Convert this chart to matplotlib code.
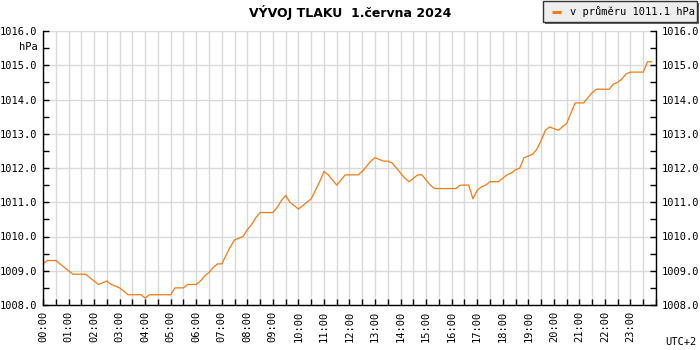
import matplotlib
matplotlib.use("Agg")
import matplotlib.pyplot as plt
from matplotlib.ticker import MultipleLocator, FixedLocator, FuncFormatter
from matplotlib.patches import Rectangle

# data: pressure every 10 minutes (hPa), 00:00 .. 23:50
minutes = list(range(0, 1440, 10))
pressure = [
    1009.2, 1009.3, 1009.3, 1009.3, 1009.2, 1009.1,   # 00:00-00:50
    1009.0, 1008.9, 1008.9, 1008.9, 1008.9, 1008.8,   # 01:00-01:50
    1008.7, 1008.6, 1008.65, 1008.7, 1008.6, 1008.55, # 02:00-02:50
    1008.5, 1008.4, 1008.3, 1008.3, 1008.3, 1008.3,   # 03:00-03:50
    1008.2, 1008.3, 1008.3, 1008.3, 1008.3, 1008.3,   # 04:00-04:50
    1008.3, 1008.5, 1008.5, 1008.5, 1008.6, 1008.6,   # 05:00-05:50
    1008.6, 1008.7, 1008.85, 1008.95, 1009.1, 1009.2, # 06:00-06:50
    1009.2, 1009.45, 1009.7, 1009.9, 1009.95, 1010.0, # 07:00-07:50
    1010.2, 1010.35, 1010.55, 1010.7, 1010.7, 1010.7, # 08:00-08:50
    1010.7, 1010.85, 1011.05, 1011.2, 1011.0, 1010.9, # 09:00-09:50
    1010.8, 1010.9, 1011.0, 1011.1, 1011.35, 1011.6,  # 10:00-10:50
    1011.9, 1011.8, 1011.65, 1011.5, 1011.65, 1011.8, # 11:00-11:50
    1011.8, 1011.8, 1011.8, 1011.9, 1012.05, 1012.2,  # 12:00-12:50
    1012.3, 1012.25, 1012.2, 1012.2, 1012.15, 1012.0, # 13:00-13:50
    1011.85, 1011.7, 1011.6, 1011.7, 1011.8, 1011.8,  # 14:00-14:50
    1011.65, 1011.5, 1011.4, 1011.4, 1011.4, 1011.4,  # 15:00-15:50
    1011.4, 1011.4, 1011.5, 1011.5, 1011.5, 1011.1,   # 16:00-16:50
    1011.35, 1011.45, 1011.5, 1011.6, 1011.6, 1011.6, # 17:00-17:50
    1011.7, 1011.8, 1011.85, 1011.95, 1012.0, 1012.3, # 18:00-18:50
    1012.35, 1012.4, 1012.55, 1012.8, 1013.1, 1013.2, # 19:00-19:50
    1013.15, 1013.1, 1013.2, 1013.3, 1013.6, 1013.9,  # 20:00-20:50
    1013.9, 1013.9, 1014.05, 1014.2, 1014.3, 1014.3,  # 21:00-21:50
    1014.3, 1014.3, 1014.45, 1014.5, 1014.6, 1014.75, # 22:00-22:50
    1014.8, 1014.8, 1014.8, 1014.8, 1015.1, 1015.1,   # 23:00-23:50
]
hour_labels = ["%02d:00" % h for h in range(24)]
title_text = "VÝVOJ TLAKU  1.června 2024"
legend_text = "v průměru 1011.1 hPa"

mono = "DejaVu Sans Mono"
line_color = "#f57a12"
grid_color = "#d9d9d9"

W, H = 700, 350
fig = plt.figure(figsize=(7, 3.5), dpi=100)
ax = fig.add_axes([43 / W, 1 - 305 / H, (656 - 43) / W, (305 - 31) / H])

ax.plot(minutes, pressure, color=line_color, linewidth=0.9)

ax.set_xlim(0, 1440)
ax.set_ylim(1008, 1016)

ax.xaxis.set_major_locator(FixedLocator([h * 60 for h in range(24)]))
ax.xaxis.set_minor_locator(MultipleLocator(30))
ax.set_xticklabels(hour_labels, rotation=90, fontfamily=mono, fontsize=7.5)
ax.yaxis.set_major_locator(MultipleLocator(1))
ax.yaxis.set_minor_locator(MultipleLocator(0.5))
ax.yaxis.set_major_formatter(FuncFormatter(lambda v, p: "%.1f" % v))

ax.grid(True, which="both", axis="x", color=grid_color, linewidth=1.0)
ax.grid(True, which="major", axis="y", color=grid_color, linewidth=1.0)
ax.set_axisbelow(True)

ax.tick_params(axis="both", which="both", direction="in", length=4, width=1, color="black")
ax.tick_params(axis="y", which="both", left=True, right=True, labelleft=True, labelright=True)
ax.tick_params(axis="x", which="both", top=False, pad=4)
ax.tick_params(axis="y", pad=4)
for lab in ax.get_yticklabels():
    lab.set_fontfamily(mono)
    lab.set_fontsize(7.5)

ax.spines["top"].set_visible(False)
for s in ("left", "right", "bottom"):
    ax.spines[s].set_color("black")
    ax.spines[s].set_linewidth(1.0)

fig.text(38 / W, 1 - 47 / H, "hPa", ha="right", va="center", fontfamily=mono, fontsize=7.5)
fig.text(697 / W, 1 - 342 / H, "UTC+2", ha="right", va="center", fontfamily=mono, fontsize=7.5)
fig.text(350 / W, 1 - 12 / H, title_text, ha="center", va="center",
         fontweight="bold", fontsize=9, family="DejaVu Sans")

# legend box drawn in figure pixels
def px(x0, y0, w, h):
    return (x0 / W, 1 - (y0 + h) / H), w / W, h / H

xy, w, h = px(545, 3, 154, 21)
fig.patches.append(Rectangle(xy, w, h, transform=fig.transFigure, facecolor="#666666",
                             edgecolor="none", zorder=5))
xy, w, h = px(542.5, 1, 154, 21)
fig.patches.append(Rectangle(xy, w, h, transform=fig.transFigure, facecolor="#eeeeee",
                             edgecolor="#333333", linewidth=1.0, zorder=6))
fig.lines.append(plt.Line2D([552 / W, 561 / W], [1 - 11.5 / H, 1 - 11.5 / H],
                            transform=fig.transFigure, color=line_color, linewidth=2.2,
                            solid_capstyle="butt", zorder=7))
fig.text(570 / W, 1 - 11.5 / H, legend_text, ha="left", va="center",
         fontfamily=mono, fontsize=7.5, zorder=8)

fig.savefig("out.png", dpi=100)
